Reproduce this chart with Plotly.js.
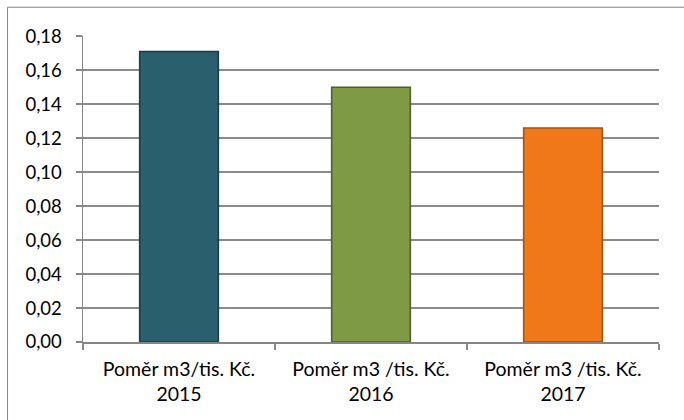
<!DOCTYPE html>
<html>
<head>
<meta charset="utf-8">
<script src="https://cdn.plot.ly/plotly-3.0.1.min.js"></script>
<style>html,body{margin:0;padding:0;background:#fff;}#chart{width:684px;height:420px;}</style>
</head>
<body>
<div id="chart"></div>
<script>
const categories = ["Poměr m3/tis. Kč.<br>2015", "Poměr m3 /tis. Kč.<br>2016", "Poměr m3 /tis. Kč.<br>2017"];
const values = [0.171, 0.150, 0.126];
const barColors = ["#2a5f6d", "#7f9a45", "#f07818"];
const barEdges = ["#173a44", "#4d5e28", "#a5500c"];
const yTickVals = [0, 0.02, 0.04, 0.06, 0.08, 0.10, 0.12, 0.14, 0.16, 0.18];

const trace = {
  type: "bar",
  x: categories,
  y: values,
  marker: { color: barColors, line: { color: barEdges, width: 1.5 } },
  hoverinfo: "none"
};

const layout = {
  width: 684, height: 420,
  margin: { l: 83, r: 25, t: 36, b: 78, pad: 0 },
  paper_bgcolor: "#ffffff",
  plot_bgcolor: "#ffffff",
  separators: ", ",
  bargap: 0.59,
  showlegend: false,
  font: { family: "Lato, 'Open Sans', sans-serif", size: 18, color: "#000000" },
  xaxis: {
    showgrid: false,
    showline: true, linecolor: "#868686", linewidth: 1.5,
    ticks: "outside", tickson: "boundaries", ticklen: 6, tickcolor: "#868686", tickwidth: 1.5,
    tickfont: { family: "Lato, 'Open Sans', sans-serif", size: 19.5, color: "#000" },
    ticklabelstandoff: 9,
    zeroline: false
  },
  yaxis: {
    range: [0, 0.1801],
    tickvals: yTickVals,
    tickformat: ".2f",
    showgrid: true, gridcolor: "#8a8a8a", gridwidth: 1.5,
    showline: true, linecolor: "#868686", linewidth: 1.5,
    ticks: "outside", ticklen: 6, tickcolor: "#868686", tickwidth: 1.5,
    tickfont: { family: "Lato, 'Open Sans', sans-serif", size: 18.5, color: "#000" },
    ticklabelstandoff: 10,
    zeroline: false
  },
  shapes: [{
    type: "rect", xref: "paper", yref: "paper",
    x0: -0.131, x1: 1.2, y0: -0.5, y1: 1.094,
    line: { color: "#868686", width: 1 }, fillcolor: "rgba(0,0,0,0)", layer: "below"
  }]
};

Plotly.newPlot("chart", [trace], layout, { staticPlot: true, displayModeBar: false });
</script>
</body>
</html>
